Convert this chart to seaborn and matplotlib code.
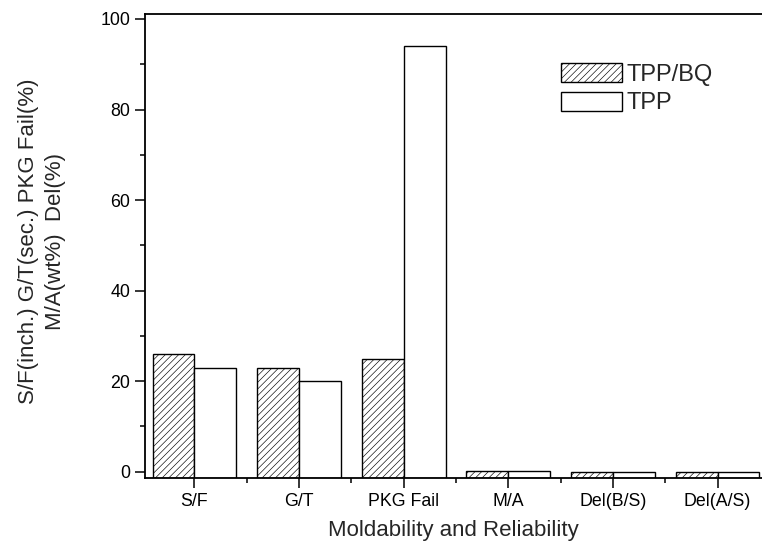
import matplotlib
matplotlib.use("Agg")
import matplotlib.pyplot as plt
from matplotlib.ticker import MultipleLocator, FixedLocator
import seaborn as sns
import pandas as pd

# Moldability / reliability results for the two catalyst systems
categories = ["S/F", "G/T", "PKG Fail", "M/A", "Del(B/S)", "Del(A/S)"]
tpp_bq = [26, 23, 25, 0.2, 0.0, 0.0]
tpp = [23, 20, 94, 0.2, 0.0, 0.0]
series = ["TPP/BQ", "TPP"]

df = pd.DataFrame({
    "item": categories * 2,
    "value": tpp_bq + tpp,
    "system": [series[0]] * len(categories) + [series[1]] * len(categories),
})

sns.set_theme(style="ticks")
plt.rcParams["font.family"] = ["Liberation Sans", "DejaVu Sans"]
plt.rcParams["hatch.linewidth"] = 0.45

fig = plt.figure(figsize=(7.62, 5.48), dpi=100)
ax = fig.add_axes([145 / 762, 1 - 477.7 / 548, 617 / 762, 463.7 / 548])

sns.barplot(data=df, x="item", y="value", hue="system", order=categories,
            hue_order=series, palette=["white", "white"], edgecolor="black",
            linewidth=1.0, width=0.8, gap=0, errorbar=None, legend=False, ax=ax)

y_bottom, y_top = -1.33, 101.1
ax.set_ylim(y_bottom, y_top)
ax.set_xlim(-0.473, 5.425)

# Bars rise from the bottom of the axis frame
for cont, vals in zip(ax.containers, [tpp_bq, tpp]):
    for patch, v in zip(cont.patches, vals):
        patch.set_y(y_bottom)
        patch.set_height(v - y_bottom)

for patch in ax.containers[0].patches:
    patch.set_hatch("/////")
    patch.set_edgecolor("black")

ax.legend(handles=[ax.containers[0], ax.containers[1]], labels=series,
          loc="upper left", bbox_to_anchor=(0.674, 0.895), frameon=False,
          fontsize=17, handlelength=2.6, handleheight=0.9,
          labelspacing=0.25, handletextpad=0.2, borderpad=0, borderaxespad=0)

# Ticks
ax.yaxis.set_major_locator(MultipleLocator(20))
ax.yaxis.set_minor_locator(MultipleLocator(10))
ax.xaxis.set_minor_locator(FixedLocator([i + 0.5 for i in range(-1, len(categories))]))
ax.tick_params(axis="both", which="major", direction="out", length=7,
               width=1.1, labelsize=12.8, color="black", labelcolor="black")
ax.tick_params(axis="both", which="minor", direction="out", length=3.5,
               width=1.1, color="black")
ax.tick_params(axis="x", which="major", pad=4)

for side in ["left", "bottom", "top"]:
    ax.spines[side].set_visible(True)
    ax.spines[side].set_linewidth(1.3)
    ax.spines[side].set_color("black")
ax.spines["right"].set_visible(False)

ax.set_xlabel("Moldability and Reliability", fontsize=16)
ax.xaxis.label.set_va("center")
ax.xaxis.set_label_coords(0.5, -0.113)

ax.set_ylabel("S/F(inch.) G/T(sec.) PKG Fail(%)\nM/A(wt%)  Del(%)",
              fontsize=16, linespacing=1.35, multialignment="center")
ax.yaxis.label.set_va("center")
ax.yaxis.set_label_coords(-0.167, 0.5 + (245.9 - 241.5) / 463.7)

fig.savefig("out.png", dpi=100)
